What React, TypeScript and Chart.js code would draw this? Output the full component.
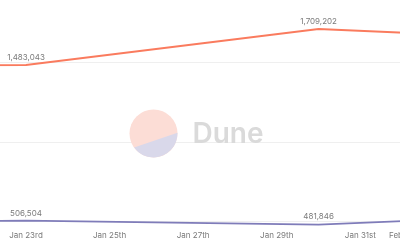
import React, { useEffect, useRef } from "react";
import { Chart, registerables } from "chart.js";

Chart.register(...registerables);

// Day numbers counted from Jan 1st (Feb 1st = 32)
const weekDays = [16, 23, 30, 37];
const seriesRed = [1480000, 1483043, 1709202, 1630000];
const seriesPurple = [490000, 506504, 481846, 558000];
const xTickDays = [21, 23, 25, 27, 29, 31, 32, 34];
const yGridValues = [500000, 1000000, 1500000];

const RED = "#fa7b5e";
const PURPLE = "#7f7cb9";
const TEXT = "#7a7a7a";
const FONT = "Inter, 'Noto Sans', sans-serif";

function ordinal(n: number): string {
  const s = n % 100;
  if (s >= 11 && s <= 13) return n + "th";
  switch (n % 10) {
    case 1: return n + "st";
    case 2: return n + "nd";
    case 3: return n + "rd";
    default: return n + "th";
  }
}

function dayLabel(d: number): string {
  if (d <= 31) return "Jan " + ordinal(d);
  return "Feb " + ordinal(d - 31);
}

const watermark = {
  id: "watermark",
  beforeDatasetsDraw(chart: any) {
    const ctx = chart.ctx;
    const cx = 203.5, cy = 133.5, r = 24;
    ctx.save();
    ctx.beginPath();
    ctx.arc(cx, cy, r, 0, Math.PI * 2);
    ctx.fillStyle = "#fcddd6";
    ctx.fill();
    ctx.beginPath();
    ctx.arc(cx, cy, r, (-2 * Math.PI) / 180, (144 * Math.PI) / 180);
    ctx.closePath();
    ctx.fillStyle = "#d9d8ea";
    ctx.fill();
    ctx.fillStyle = "#dadada";
    ctx.font = "600 28px " + FONT;
    ctx.textAlign = "left";
    ctx.textBaseline = "alphabetic";
    ctx.fillText("Dune", 242.5, 143.3);
    ctx.restore();
  },
};

const valueLabels = {
  id: "valueLabels",
  afterDatasetsDraw(chart: any) {
    const ctx = chart.ctx;
    ctx.save();
    ctx.font = "8px " + FONT;
    ctx.fillStyle = TEXT;
    ctx.textAlign = "center";
    ctx.textBaseline = "middle";
    chart.data.datasets.forEach((ds: any, i: number) => {
      const meta = chart.getDatasetMeta(i);
      meta.data.forEach((pt: any, j: number) => {
        const v = ds.data[j].y;
        ctx.fillText(v.toLocaleString("en-US"), pt.x, pt.y - 7.5);
      });
    });
    ctx.restore();
  },
};

export default function App() {
  const ref = useRef<HTMLCanvasElement | null>(null);
  useEffect(() => {
    if (!ref.current) return;
    const chart = new Chart(ref.current, {
      type: "line",
      data: {
        datasets: [
          {
            data: weekDays.map((d, i) => ({ x: d, y: seriesRed[i] })),
            borderColor: RED,
            borderWidth: 2,
            pointRadius: 0,
            tension: 0,
          },
          {
            data: weekDays.map((d, i) => ({ x: d, y: seriesPurple[i] })),
            borderColor: PURPLE,
            borderWidth: 1.6,
            pointRadius: 0,
            tension: 0,
          },
        ],
      },
      options: {
        animation: false,
        responsive: false,
        devicePixelRatio: 1,
        layout: { padding: 0 },
        plugins: { legend: { display: false }, tooltip: { enabled: false } },
        scales: {
          x: {
            type: "linear",
            min: 21.182,
            max: 33.144,
            grid: { display: false, drawTicks: false },
            border: { display: false },
            afterBuildTicks(scale: any) {
              scale.ticks = xTickDays
                .filter((d) => d >= scale.min && d <= scale.max)
                .map((d) => ({ value: d }));
            },
            afterFit(scale: any) {
              scale.height = 14;
            },
            ticks: {
              autoSkip: false,
              maxRotation: 0,
              padding: 5,
              color: TEXT,
              font: { family: FONT, size: 8 },
              callback: (v: any) => dayLabel(Number(v)),
            },
          },
          y: {
            min: 473000,
            max: 1891000,
            grid: { color: "#efefef", drawTicks: false, lineWidth: 1 },
            border: { display: false },
            ticks: { display: false },
            afterBuildTicks(scale: any) {
              scale.ticks = yGridValues.map((v) => ({ value: v }));
            },
            afterFit(scale: any) {
              scale.width = 0;
            },
          },
        },
      },
      plugins: [watermark, valueLabels],
    });
    return () => chart.destroy();
  }, []);

  return (
    <div
      style={{
        position: "fixed",
        left: 0,
        top: 0,
        width: 400,
        height: 240,
        overflow: "hidden",
        background: "#fff",
      }}
    >
      <canvas
        ref={ref}
        width={500}
        height={240}
        style={{ position: "absolute", left: -50, top: 0, width: 500, height: 240 }}
      />
    </div>
  );
}
